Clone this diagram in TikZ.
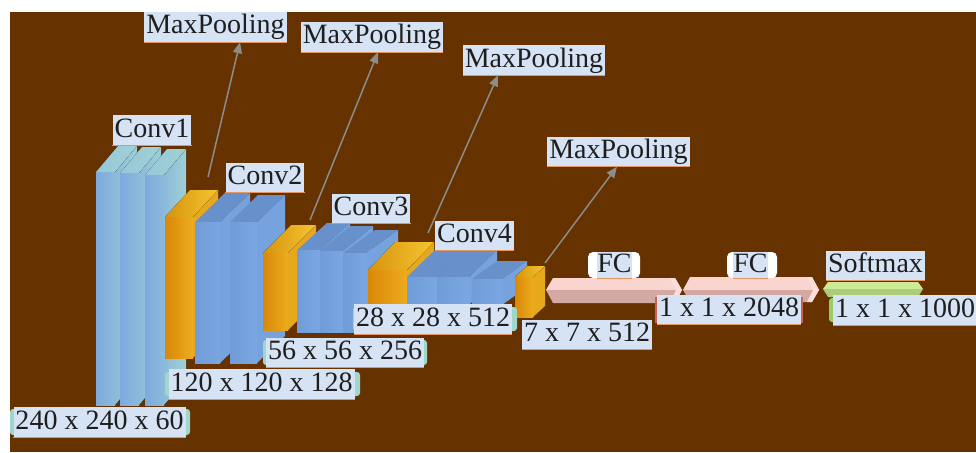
\documentclass[tikz,border=0pt]{standalone}
\usepackage{fontspec}
\setmainfont{Liberation Serif}
\usetikzlibrary{arrows.meta}
\definecolor{bgbrown}{RGB}{102,51,0}
\definecolor{lblue}{RGB}{214,227,245}
\definecolor{lbord}{RGB}{228,150,95}
\definecolor{txtc}{RGB}{30,30,30}
\definecolor{arrc}{RGB}{140,140,140}
\definecolor{tealA}{RGB}{125,170,222}
\definecolor{tealB}{RGB}{140,186,218}
\definecolor{tealC}{RGB}{160,208,214}
\definecolor{tealD}{RGB}{150,200,216}
\definecolor{bluF}{RGB}{112,156,216}
\definecolor{bluG}{RGB}{122,166,226}
\definecolor{bluT}{RGB}{104,145,204}
\definecolor{bluS}{RGB}{118,162,222}
\definecolor{orA}{RGB}{216,136,8}
\definecolor{orB}{RGB}{238,172,30}
\definecolor{orT1}{RGB}{214,148,16}
\definecolor{orT2}{RGB}{246,196,48}
\definecolor{orS}{RGB}{232,168,28}
\definecolor{fcT}{RGB}{250,212,207}
\definecolor{fcB}{RGB}{212,168,163}
\definecolor{fcE}{RGB}{252,222,218}
\definecolor{smT}{RGB}{205,235,150}
\definecolor{smB}{RGB}{172,204,122}
\definecolor{tealL}{RGB}{160,215,200}
\definecolor{redL}{RGB}{205,95,85}
\definecolor{grnL}{RGB}{150,205,100}
\newcommand{\lblfont}{\fontsize{28pt}{30pt}\selectfont}
% #1 x, #2 y (front top-left), #3 w, #4 h, #5 dx, #6 rise, #7 style prefix
\newcommand{\cubo}[7]{%
  \fill[#7side] ({#1+#3},#2) -- ({#1+#3+#5},{#2-#6}) -- ({#1+#3+#5},{#2+#4-#6}) -- ({#1+#3},{#2+#4}) -- cycle;
  \fill[#7top] (#1,#2) -- ({#1+#5},{#2-#6}) -- ({#1+#3+#5},{#2-#6}) -- ({#1+#3},#2) -- cycle;
  \fill[#7front] (#1,#2) rectangle ({#1+#3},{#2+#4});
}
\tikzset{
  tealfront/.style={left color=tealA, right color=tealB},
  tealside/.style={left color=tealB, right color=tealC},
  tealtop/.style={left color=tealD, right color=tealC},
  blufront/.style={left color=bluF, right color=bluG},
  bluside/.style={fill=bluS},
  blutop/.style={fill=bluT},
  orfront/.style={left color=orA, right color=orB},
  orside/.style={fill=orS},
  ortop/.style={left color=orT1, right color=orT2},
  lbl/.style={fill=lblue, text=txtc, inner xsep=2pt, inner ysep=2pt,
    text height=20pt, text depth=6pt, font=\lblfont,
    append after command={(\tikzlastnode.south west) edge[draw=lbord, line width=1.2pt] (\tikzlastnode.south east)}},
  backing/.style={rounded corners=3pt},
  arr/.style={draw=arrc, line width=1.5pt, -{Triangle[length=11pt,width=9pt]}},
}
\begin{document}
\begin{tikzpicture}[x=1pt,y=-1pt]
\useasboundingbox (0,0) rectangle (976,452);
\clip (0,0) rectangle (976,452);
\fill[white] (0,0) rectangle (976,452);
\fill[bgbrown] (10,12) rectangle (976,452);
% Conv1 slabs
\cubo{96}{172}{19}{233}{22}{26}{teal}
\cubo{120}{173}{19}{232}{22}{26}{teal}
\cubo{145}{175}{19}{230}{22}{26}{teal}
% Conv2
\cubo{165}{217}{28}{141}{25}{27}{or}
\cubo{195}{222}{25}{141}{30}{29}{blu}
\cubo{230}{222}{27}{141}{28}{27}{blu}
% Conv3
\cubo{263}{253}{25}{77}{28}{28}{or}
\cubo{297}{250}{23}{82}{30}{27}{blu}
\cubo{320}{251}{23}{81}{30}{25}{blu}
\cubo{343}{253}{23}{79}{32}{23}{blu}
% Conv4
\cubo{368}{270}{39}{35}{27}{28}{or}
\cubo{407}{277}{30}{28}{28}{27}{blu}
\cubo{437}{277}{32}{28}{28}{27}{blu}
\cubo{472}{279}{30}{26}{25}{18}{blu}
\cubo{515}{277}{18}{40}{12}{11}{or}
% FC bars
\fill[fcT] (546,290) -- (553,278) -- (675,278) -- (682,290) -- cycle;
\fill[fcB] (546,290) -- (682,290) -- (675,303) -- (553,303) -- cycle;
\fill[fcE] (670,278) -- (675,278) -- (682,290) -- (675,303) -- (670,303) -- (676,290) -- cycle;
\fill[fcT] (683,290) -- (690,277) -- (812,277) -- (819,290) -- cycle;
\fill[fcB] (683,290) -- (819,290) -- (812,302) -- (690,302) -- cycle;
\fill[fcE] (807,277) -- (812,277) -- (819,290) -- (812,302) -- (807,302) -- (813,290) -- cycle;
% Softmax bar
\fill[smT] (823,289) -- (828,282) -- (918,282) -- (923,289) -- cycle;
\fill[smB] (823,289) -- (923,289) -- (918,297) -- (828,297) -- cycle;
% arrows
\coordinate (s1) at (208,177); \coordinate (t1) at (240,42);
\coordinate (s2) at (310,220); \coordinate (t2) at (378,50);
\coordinate (s3) at (428,233); \coordinate (t3) at (498,77);
\coordinate (s4) at (545,263); \coordinate (t4) at (617,167);
% labels
\node[lbl] (mp1) at (215.5,27) {MaxPooling};
\node[lbl] (mp2) at (372,37) {MaxPooling};
\node[lbl] (mp3) at (534,60) {MaxPooling};
\node[lbl] (mp4) at (618.5,151.5) {MaxPooling};
\draw[arr] (s1) -- (mp1.south -| t1);
\draw[arr] (s2) -- (mp2.south -| t2);
\draw[arr] (s3) -- (mp3.south -| t3);
\draw[arr] (s4) -- (mp4.south -| t4);
\node[lbl] (c1) at (152,130) {Conv1};
\node[lbl] (c2) at (265,177.5) {Conv2};
\node[lbl] (c3) at (371,208.5) {Conv3};
\node[lbl] (c4) at (474.5,235.5) {Conv4};
\node[fill=white, rounded corners=5pt, minimum width=52pt, minimum height=26pt, inner sep=0pt] (fcw1) at (614,265) {};
\node[fill=white, rounded corners=5pt, minimum width=50pt, minimum height=26pt, inner sep=0pt] (fcw2) at (752,265) {};
\node[lbl, inner ysep=1pt, text height=19pt, text depth=5pt, inner xsep=0pt] (fc1) at (614.5,265) {FC};
\node[lbl, inner ysep=1pt, text height=19pt, text depth=5pt, inner xsep=0pt] (fc2) at (750.5,265) {FC};
\node[lbl] (sm) at (875.5,265.5) {Softmax};
% dimension labels with coloured backings
\fill[tealL, backing] (10,409) rectangle (190,435);
\node[lbl] (d1) at (99.5,422) {240 x 240 x 60};
\fill[tealL, backing] (165,372) rectangle (360,396);
\node[lbl] (d2) at (261.5,384) {120 x 120 x 128};
\fill[tealL, backing] (263,340) rectangle (427,365);
\node[lbl] (d3) at (345,352.5) {56 x 56 x 256};
\fill[tealL, backing] (353,307) rectangle (517,331);
\node[lbl] (d4) at (433,319) {28 x 28 x 512};
\node[lbl] (d5) at (587,334.5) {7 x 7 x 512};
\fill[redL] (655,297) rectangle (803,323);
\node[lbl] (d6) at (729,309.5) {1 x 1 x 2048};
\fill[grnL, backing] (829,298) rectangle (845,322);
\node[lbl, anchor=west] (d7) at (833,310) {1 x 1 x 1000};
\end{tikzpicture}
\end{document}
